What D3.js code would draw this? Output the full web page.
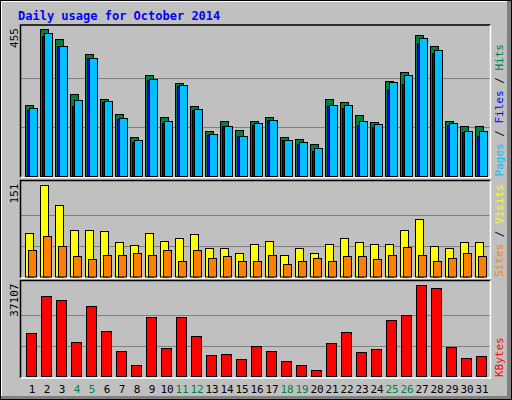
<!DOCTYPE html>
<html><head><meta charset="utf-8">
<script src="https://cdn.jsdelivr.net/npm/d3@7"></script>
<style>body{margin:0;background:#fff}svg{display:block}</style>
</head><body>
<svg id="c" width="512" height="400"></svg>
<script>
const days = d3.range(1,32).map(String);
const weekend = ["4","5","11","12","18","19","25","26"];
const hits  = [220,455,423,254,377,238,192,121,312,183,287,217,139,170,142,170,183,121,115,99,238,229,189,167,294,321,435,402,170,155,155];
const files = [210,442,402,235,365,232,180,112,300,170,281,207,130,155,124,164,173,112,105,87,220,220,170,161,290,312,426,389,164,139,139];
const pages = [205,434,402,217,365,230,176,106,297,165,278,204,127,155,124,158,173,112,99,78,217,210,158,152,269,284,411,380,158,136,124];
const visits= [72,151,118,77,77,75,56,51,71,59,64,69,46,46,39,54,59,36,46,39,54,64,57,53,54,77,94,50,46,57,57];
const sites = [44,66,50,34,28,36,36,38,36,43,26,43,30,34,25,25,36,21,26,31,26,34,33,28,36,48,36,26,30,38,34];
const kbytes= [17534,32621,30990,13864,28544,18350,10194,4486,24058,11417,24058,16311,8563,8971,6932,12233,10194,6117,4486,2447,13456,17942,9786,11010,22835,24874,37107,35884,11825,7340,8155];
const maxLabels = ["455","151","37107"];

const svg = d3.select("#c");
const font = "'DejaVu Sans Mono', monospace";
// frame
svg.append("rect").attr("x",0).attr("y",0).attr("width",512).attr("height",400).attr("fill","#C0C0C0");
svg.append("rect").attr("x",0.5).attr("y",0.5).attr("width",511).attr("height",399).attr("fill","none").attr("stroke","#000");
svg.append("path").attr("d","M1.5,398.5V1.5H506.5").attr("fill","none").attr("stroke","#fff");
svg.append("rect").attr("x",507).attr("y",1).attr("width",4).attr("height",398).attr("fill","#808080");
svg.append("rect").attr("x",1).attr("y",396).attr("width",510).attr("height",3).attr("fill","#808080");
svg.append("text").attr("x",18).attr("y",20).attr("font-family",font).attr("font-size",12).attr("font-weight","bold")
  .attr("fill","#0000FF").text("Daily usage for October 2014");

const x = d3.scaleBand().domain(days).range([25,490]).paddingInner(0).paddingOuter(0);
const L = 20.5, R = 490.5;

function panel(top,bottom,max,label,rightParts){
  svg.append("rect").attr("x",L).attr("y",top).attr("width",R-L).attr("height",bottom-top).attr("fill","#C0C0C0");
  const y = d3.scaleLinear().domain([0,max]).range([bottom-1.5, top+4]);
  [1/3,2/3].forEach(f=>{
    const yy = Math.round(y(max*f))+0.5;
    svg.append("line").attr("x1",L).attr("x2",R).attr("y1",yy).attr("y2",yy).attr("stroke","#808080");
  });
  svg.append("path").attr("d",`M${L},${bottom}V${top}H${R}`).attr("fill","none").attr("stroke","#000").attr("stroke-width",1.5);
  svg.append("path").attr("d",`M${L},${bottom}H${R}V${top}`).attr("fill","none").attr("stroke","#fff").attr("stroke-width",1.5);
  svg.append("text").attr("transform",`translate(18,${top+3}) rotate(-90)`).attr("text-anchor","end")
    .attr("font-family",font).attr("font-size",11).attr("fill","#000").text(label);
  const t = svg.append("text").attr("transform",`translate(503,${bottom-1}) rotate(-90)`)
    .attr("font-family",font).attr("font-size",11);
  rightParts.forEach(p=>t.append("tspan").attr("fill",p[1]).text(p[0]));
  return y;
}
function bars(y,data,off,w,color,base){
  svg.append("g").selectAll("rect").data(data).join("rect")
    .attr("x",(d,i)=>x(days[i])+off+0.5).attr("width",w)
    .attr("y",d=>Math.round(y(d))+0.5).attr("height",d=>base-Math.round(y(d)))
    .attr("fill",color).attr("stroke","#000").attr("stroke-width",1);
}
const y1 = panel(25,177.5,455,maxLabels[0],[["Pages","#00C0FF"],[" / ","#000"],["Files","#0000FF"],[" / ","#000"],["Hits","#008040"]]);
bars(y1,hits,0,8,"#008040",176);
bars(y1,pages,2,8,"#0000FF",176);
bars(y1,files,4,8,"#00C0FF",176);

const y2 = panel(180.5,278,151,maxLabels[1],[["Sites","#FF8000"],[" / ","#000"],["Visits","#FFFF00"]]);
bars(y2,visits,0,8,"#FFFF00",276.5);
bars(y2,sites,3,8,"#FF8000",276.5);

const y3 = panel(280.5,378,37107,maxLabels[2],[["KBytes","#FF0000"]]);
bars(y3,kbytes,1,10,"#FF0000",376);

svg.append("g").selectAll("text").data(days).join("text")
  .attr("x",d=>x(d)+7).attr("y",393).attr("text-anchor","middle")
  .attr("font-family",font).attr("font-size",11)
  .attr("fill",d=>weekend.includes(d)?"#008040":"#000").text(d=>d);
</script>
</body></html>
